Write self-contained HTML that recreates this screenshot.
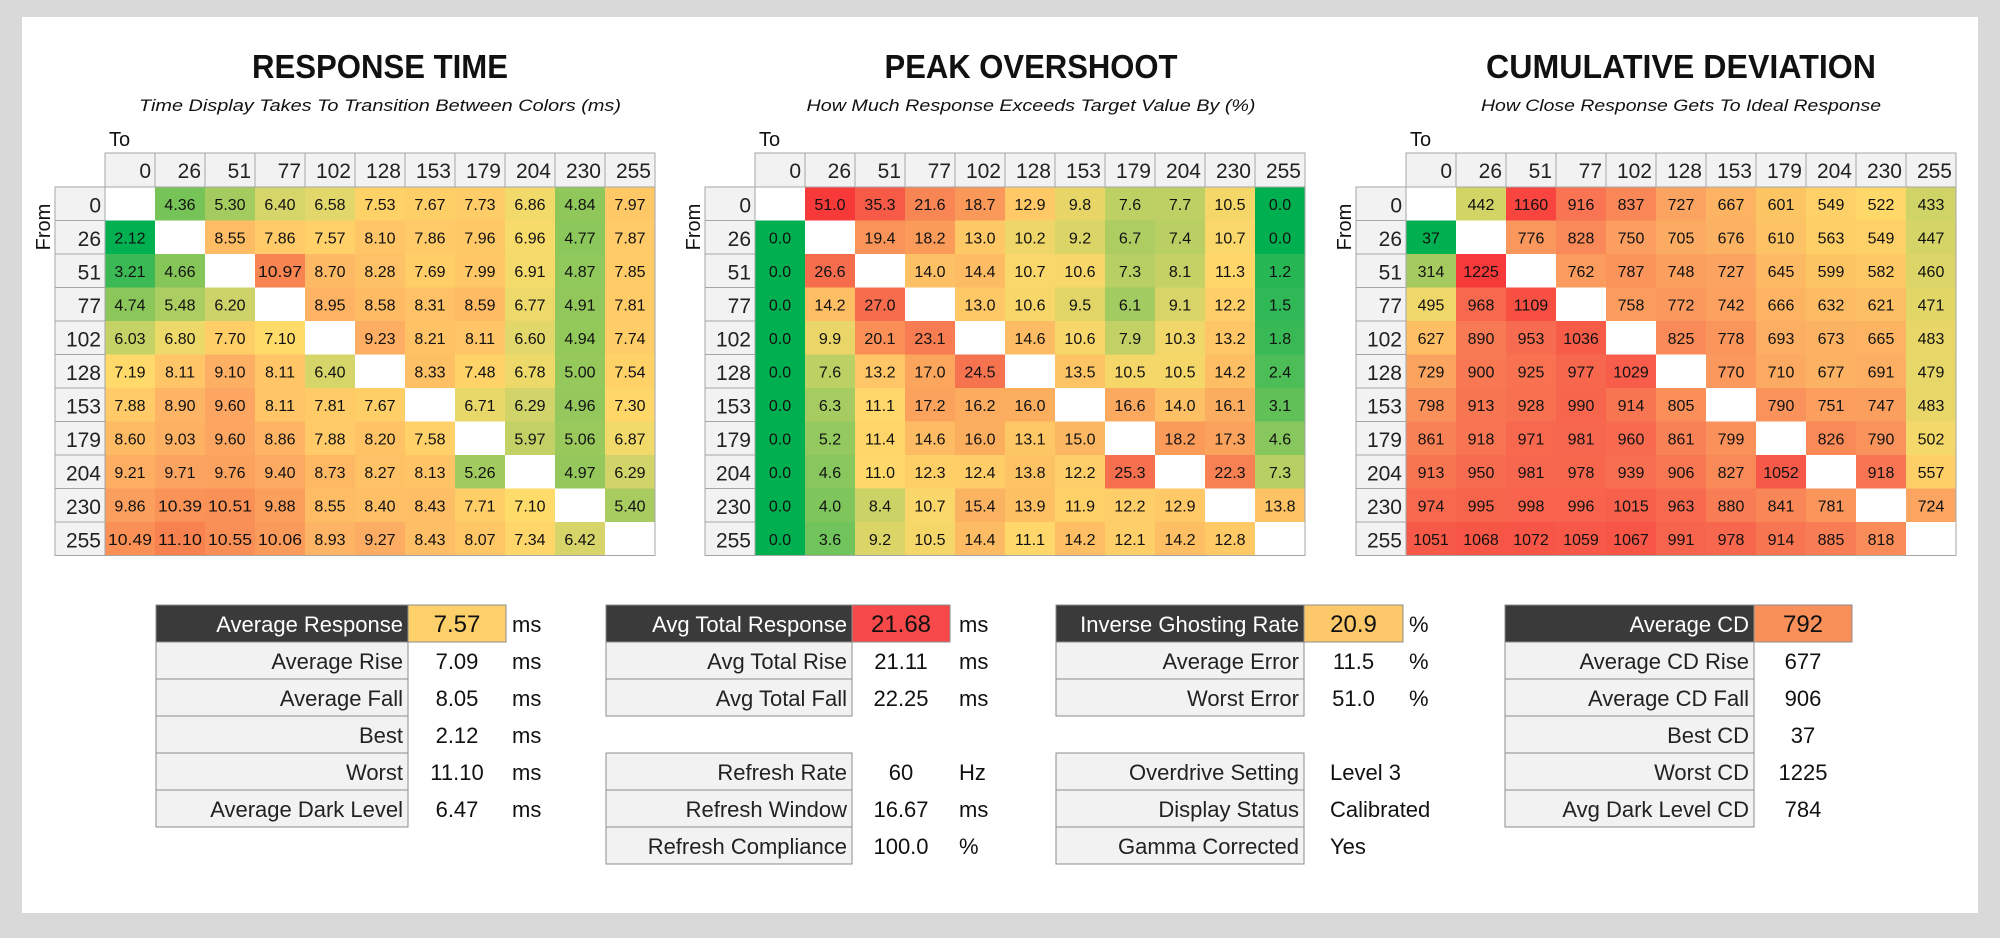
<!DOCTYPE html>
<html><head><meta charset="utf-8"><style>
html,body{margin:0;padding:0;background:#d9d9d9;}
svg{display:block;}
text{font-family:"Liberation Sans Narrow","Liberation Sans",sans-serif;}
</style></head>
<body>
<svg id="root" width="2000" height="938" viewBox="0 0 2000 938" xmlns="http://www.w3.org/2000/svg">
<rect x="0" y="0" width="2000" height="938" fill="#d9d9d9"/>
<rect x="22" y="17" width="1956" height="896" fill="#ffffff"/>
</svg>
<script>
const levels = ["0","26","51","77","102","128","153","179","204","230","255"];
const rtValues = [
[null,4.36,5.30,6.40,6.58,7.53,7.67,7.73,6.86,4.84,7.97],
[2.12,null,8.55,7.86,7.57,8.10,7.86,7.96,6.96,4.77,7.87],
[3.21,4.66,null,10.97,8.70,8.28,7.69,7.99,6.91,4.87,7.85],
[4.74,5.48,6.20,null,8.95,8.58,8.31,8.59,6.77,4.91,7.81],
[6.03,6.80,7.70,7.10,null,9.23,8.21,8.11,6.60,4.94,7.74],
[7.19,8.11,9.10,8.11,6.40,null,8.33,7.48,6.78,5.00,7.54],
[7.88,8.90,9.60,8.11,7.81,7.67,null,6.71,6.29,4.96,7.30],
[8.60,9.03,9.60,8.86,7.88,8.20,7.58,null,5.97,5.06,6.87],
[9.21,9.71,9.76,9.40,8.73,8.27,8.13,5.26,null,4.97,6.29],
[9.86,10.39,10.51,9.88,8.55,8.40,8.43,7.71,7.10,null,5.40],
[10.49,11.10,10.55,10.06,8.93,9.27,8.43,8.07,7.34,6.42,null]];
const osValues = [
[null,51.0,35.3,21.6,18.7,12.9,9.8,7.6,7.7,10.5,0.0],
[0.0,null,19.4,18.2,13.0,10.2,9.2,6.7,7.4,10.7,0.0],
[0.0,26.6,null,14.0,14.4,10.7,10.6,7.3,8.1,11.3,1.2],
[0.0,14.2,27.0,null,13.0,10.6,9.5,6.1,9.1,12.2,1.5],
[0.0,9.9,20.1,23.1,null,14.6,10.6,7.9,10.3,13.2,1.8],
[0.0,7.6,13.2,17.0,24.5,null,13.5,10.5,10.5,14.2,2.4],
[0.0,6.3,11.1,17.2,16.2,16.0,null,16.6,14.0,16.1,3.1],
[0.0,5.2,11.4,14.6,16.0,13.1,15.0,null,18.2,17.3,4.6],
[0.0,4.6,11.0,12.3,12.4,13.8,12.2,25.3,null,22.3,7.3],
[0.0,4.0,8.4,10.7,15.4,13.9,11.9,12.2,12.9,null,13.8],
[0.0,3.6,9.2,10.5,14.4,11.1,14.2,12.1,14.2,12.8,null]];
const cdValues = [
[null,442,1160,916,837,727,667,601,549,522,433],
[37,null,776,828,750,705,676,610,563,549,447],
[314,1225,null,762,787,748,727,645,599,582,460],
[495,968,1109,null,758,772,742,666,632,621,471],
[627,890,953,1036,null,825,778,693,673,665,483],
[729,900,925,977,1029,null,770,710,677,691,479],
[798,913,928,990,914,805,null,790,751,747,483],
[861,918,971,981,960,861,799,null,826,790,502],
[913,950,981,978,939,906,827,1052,null,918,557],
[974,995,998,996,1015,963,880,841,781,null,724],
[1051,1068,1072,1059,1067,991,978,914,885,818,null]];
const rtStats = [["Average Response","7.57","ms"],["Average Rise","7.09","ms"],["Average Fall","8.05","ms"],["Best","2.12","ms"],["Worst","11.10","ms"],["Average Dark Level","6.47","ms"]];
const osStats = [["Avg Total Response","21.68","ms"],["Avg Total Rise","21.11","ms"],["Avg Total Fall","22.25","ms"],null,["Refresh Rate","60","Hz"],["Refresh Window","16.67","ms"],["Refresh Compliance","100.0","%"]];
const igStats = [["Inverse Ghosting Rate","20.9","%"],["Average Error","11.5","%"],["Worst Error","51.0","%"],null,["Overdrive Setting","Level 3",""],["Display Status","Calibrated",""],["Gamma Corrected","Yes",""]];
const cdStats = [["Average CD","792",""],["Average CD Rise","677",""],["Average CD Fall","906",""],["Best CD","37",""],["Worst CD","1225",""],["Avg Dark Level CD","784",""]];

const NS="http://www.w3.org/2000/svg";
const root=document.getElementById('root');
function mk(tag,attrs,parent,txt){const e=document.createElementNS(NS,tag);for(const k in attrs)e.setAttribute(k,attrs[k]);if(txt!==undefined)e.textContent=txt;(parent||root).appendChild(e);return e;}
function hex(h){return [parseInt(h.slice(1,3),16),parseInt(h.slice(3,5),16),parseInt(h.slice(5,7),16)];}
function scale(stops){return v=>{if(v<=stops[0][0])return stops[0][1];for(let i=1;i<stops.length;i++){if(v<=stops[i][0]){const a=stops[i-1],b=stops[i];const t=(v-a[0])/(b[0]-a[0]);const ca=hex(a[1]),cb=hex(b[1]);return 'rgb('+ca.map((c,j)=>Math.round(c+(cb[j]-c)*t)).join(',')+')';}}return stops[stops.length-1][1];};}
const rtColor=scale([[2.1,"#00b050"],[4.8,"#8dc75a"],[6.4,"#d6d56a"],[7.1,"#ffdc6a"],[8.0,"#ffc766"],[9.5,"#fca862"],[11.1,"#f8824f"]]);
const osColor=scale([[0,"#00b050"],[4,"#7ec55c"],[8,"#c3d165"],[11,"#ffd86a"],[14,"#fdc064"],[18,"#fa9c5a"],[25,"#f6704f"],[51,"#f8393a"]]);
const cdColor=scale([[37,"#00b050"],[320,"#a9cc60"],[450,"#d6d466"],[520,"#ffd96a"],[600,"#fdc464"],[700,"#fcac63"],[800,"#fa905a"],[950,"#f76c50"],[1225,"#f8393a"]]);

const gridLeft=[105,755,1406], headTop=153, headH=34, rowH=33.5, colW=50;
const titles=[["RESPONSE TIME","Time Display Takes To Transition Between Colors (ms)",380,256,482],
["PEAK OVERSHOOT","How Much Response Exceeds Target Value By (%)",1031,293,449],
["CUMULATIVE DEVIATION","How Close Response Gets To Ideal Response",1681,390,400]];
const grids=[[rtValues,rtColor,v=>v.toFixed(2),"response-time"],[osValues,osColor,v=>v.toFixed(1),"peak-overshoot"],[cdValues,cdColor,v=>String(v),"cumulative-deviation"]];

grids.forEach((g,gi)=>{
  const x0=gridLeft[gi], prefix=g[3];
  const grp=mk('g',{});
  
  
  const t=titles[gi];
  const tt=mk('text',{x:t[2],y:78,'text-anchor':'middle','font-size':33,'font-weight':'bold',fill:'#111',textLength:t[3],lengthAdjust:'spacingAndGlyphs'},grp,t[0]);
  
  
  const st=mk('text',{x:t[2],y:111,'text-anchor':'middle','font-size':17,'font-style':'italic',fill:'#111',textLength:t[4],lengthAdjust:'spacingAndGlyphs'},grp,t[1]);
  
  
  const to=mk('text',{x:x0+4,y:146,'font-size':20,fill:'#111'},grp,"To");
  
  
  const fr=mk('text',{x:0,y:0,'font-size':20,fill:'#111','text-anchor':'middle',transform:'translate('+(x0-55)+',227) rotate(-90)'},grp,"From");
  
  
  levels.forEach((l,i)=>{
    const hx=x0+i*colW;
    const hc=mk('rect',{x:hx,y:headTop,width:colW,height:headH,fill:'#f2f2f2',stroke:'#a6a6a6','stroke-width':1},grp);
    
    
    const ht=mk('text',{x:hx+colW-4,y:headTop+headH-9,'text-anchor':'end','font-size':21,fill:'#222'},grp,l);
    
    
    const ry=headTop+headH+i*rowH;
    const rc=mk('rect',{x:x0-colW,y:ry,width:colW,height:rowH,fill:'#f2f2f2',stroke:'#a6a6a6','stroke-width':1},grp);
    
    
    const rt=mk('text',{x:x0-4,y:ry+rowH-8,'text-anchor':'end','font-size':21,fill:'#222'},grp,l);
    
    
  });
  g[0].forEach((row,r)=>{
    row.forEach((v,c)=>{
      const cx=x0+c*colW, cy=headTop+headH+r*rowH;
      const cell=mk('rect',{x:cx,y:cy,width:colW,height:rowH,fill:v===null?'#ffffff':g[1](v)},grp);
      
      
      if(v!==null){
        const s=g[2](v);
        const a={x:cx+colW/2,y:cy+rowH/2+6,'text-anchor':'middle','font-size':16,fill:'#111'};
        if(s.length>=5){a.textLength=44;a.lengthAdjust='spacingAndGlyphs';}
        const ct=mk('text',a,grp,s);
        
        
      }
    });
  });
  const ob=mk('rect',{x:x0,y:headTop+headH,width:11*colW,height:11*rowH,fill:'none',stroke:'#a6a6a6','stroke-width':1},grp);
  
  
});

const tables=[[rtStats,156,408,506,512,"#fdd06a","response-stats","center"],
[osStats,606,852,950,959,"#f8494a","overshoot-stats","center"],
[igStats,1056,1304,1403,1409,"#fdc86a","ghosting-stats","left"],
[cdStats,1505,1754,1852,0,"#f9905a","deviation-stats","center"]];
tables.forEach(tb=>{
  const [rows,lx,vx,vr,ux,hl,nm,align]=tb;
  const grp=mk('g',{});
  
  
  rows.forEach((r,i)=>{
    if(!r)return;
    const y=605+i*37, head=i===0;
    const lc=mk('rect',{x:lx,y:y,width:vx-lx,height:37,fill:head?'#3a3a3a':'#f2f2f2',stroke:'#8c8c8c','stroke-width':1},grp);
    
    
    const lt=mk('text',{x:vx-5,y:y+27,'text-anchor':'end','font-size':22,fill:head?'#ffffff':'#222'},grp,r[0]);
    
    
    if(head){
      const vb=mk('rect',{x:vx,y:y,width:vr-vx,height:37,fill:hl,stroke:'#8c8c8c','stroke-width':1},grp);
      
      
    }
    let va={x:(vx+vr)/2,y:y+27,'text-anchor':'middle','font-size':head?24:22,fill:'#111'};
    if(align==='left'&&i>=4){va={x:vx+26,y:y+27,'text-anchor':'start','font-size':22,fill:'#111'};}
    const vt=mk('text',va,grp,r[1]);
    
    
    if(r[2]){
      const ut=mk('text',{x:ux,y:y+27,'font-size':22,fill:'#111'},grp,r[2]);
      
      
    }
  });
});
</script>
</body></html>
